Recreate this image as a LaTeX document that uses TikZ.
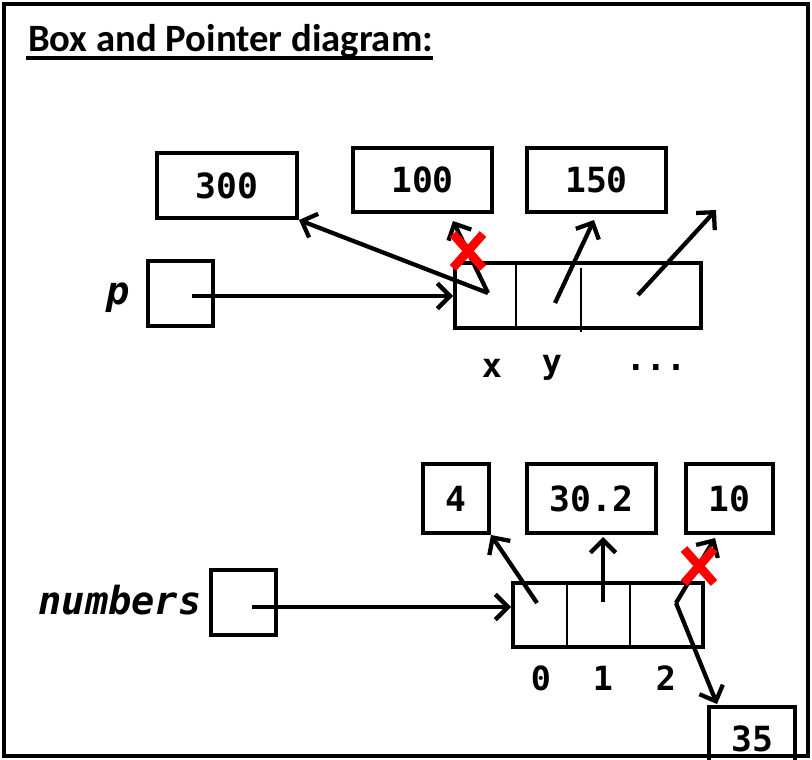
\documentclass[tikz,border=0pt]{standalone}
\usepackage{fontspec}
\setmainfont{Carlito}
\newfontfamily\monof{DejaVu Sans Mono}
\usetikzlibrary{arrows.meta,calc}
\begin{document}
\begin{tikzpicture}[x=0.75pt,y=-0.75pt,
  box/.style={draw,line width=3pt,inner sep=0pt,font=\monof\bfseries\fontsize{26}{30}\selectfont},
  cellline/.style={line width=1.6pt},
  arr/.style={line width=3.2pt,-{Straight Barb[length=9.5pt,width=19pt]}},
  cross/.style={red,line width=6.5pt},
  lab/.style={font=\monof\bfseries\fontsize{25}{29}\selectfont,inner sep=0pt},
  varlab/.style={font=\monof\bfseries\itshape\fontsize{29}{33}\selectfont,inner sep=0pt}]
\useasboundingbox (0,0) rectangle (812,759);
\clip (0,0) rectangle (812,759);
% frame
\draw[line width=3.5pt] (4,4) rectangle (808,756);
% title
\node[anchor=base west,inner sep=0pt,font=\bfseries\fontsize{29}{33}\selectfont] (title) at (28,52) {Box and Pointer diagram:};
\draw[line width=2.4pt] ($(title.base west)+(-2,6)$) -- ($(title.base east)+(0,6)$);

% ---- top section ----
\node[box,minimum width=105pt,minimum height=48.75pt] (b300) at (227,185.5) {300};
\node[box,minimum width=104.25pt,minimum height=48pt] (b100) at (422.5,180) {100};
\node[box,minimum width=104.25pt,minimum height=48pt] (b150) at (596.5,180) {150};
\node[box,minimum width=48.75pt,minimum height=48.75pt] (pbox) at (180.5,293.5) {};
\node[box,minimum width=184.5pt,minimum height=48.75pt] (parr) at (578,295.5) {};
\draw[cellline] (516,263) -- (516,328);
\draw[cellline] (581,268) -- (581,332);
\node[varlab] (plab) at (118,298) {p};
\node[lab] (lx) at (492,368) {x};
\node[lab] (ly) at (552,368) {y};
\node[lab] (ldots) at (656,368) {...};

\coordinate (pstart) at (192,296);
\coordinate (xpt) at (488,293);
\coordinate (xto100) at (453,221);
\coordinate (ypt) at (555,303);
\coordinate (yto150) at (594,220);
\coordinate (dpt) at (638,295);
\coordinate (dend) at (716,210);
\draw[arr] (pstart) -- (parr.west |- pstart);
\draw[arr] (xpt) -- (b300.south east);
\draw[arr] (xpt) -- (xto100);
\draw[arr] (ypt) -- (yto150);
\draw[arr] (dpt) -- (dend);
\coordinate (x1) at (468,251);
\draw[cross] ($(x1)+(-15,-17)$) -- ($(x1)+(15,17)$);
\draw[cross] ($(x1)+(15,-17)$) -- ($(x1)+(-15,17)$);

% ---- bottom section ----
\node[box,minimum width=49.5pt,minimum height=51.75pt] (b4) at (456,498.5) {4};
\node[box,minimum width=96.75pt,minimum height=51.75pt] (b302) at (591.5,498.5) {30.2};
\node[box,minimum width=65.25pt,minimum height=51.75pt] (b10) at (729.5,498.5) {10};
\node[box,minimum width=64.5pt,minimum height=48pt] (b35) at (752,739) {35};
\node[box,minimum width=48.75pt,minimum height=48.75pt] (nbox) at (243.5,602.5) {};
\node[box,minimum width=142.5pt,minimum height=48pt] (narr) at (608,615) {};
\draw[cellline] (567,583) -- (567,647);
\draw[cellline] (630,583) -- (630,647);
\node[varlab] (nlab) at (120,600) {numbers};
\node[lab] (l0) at (541,678) {0};
\node[lab] (l1) at (603,678) {1};
\node[lab] (l2) at (666,678) {2};

\coordinate (nstart) at (252,607);
\coordinate (c0) at (537,603);
\coordinate (c1) at (603,602);
\coordinate (c1end) at (603,537);
\coordinate (c2) at (676,603);
\coordinate (c2up) at (715,538);
\coordinate (c2down) at (717,704);
\draw[arr] (nstart) -- (narr.west |- nstart);
\draw[arr] (c0) -- (b4.south east);
\draw[arr] (c1) -- (c1end);
\draw[arr] (c2) -- (c2up);
\draw[arr] (c2) -- (c2down);
\coordinate (x2) at (699,566);
\draw[cross] ($(x2)+(-15,-17)$) -- ($(x2)+(15,17)$);
\draw[cross] ($(x2)+(15,-17)$) -- ($(x2)+(-15,17)$);
\end{tikzpicture}
\end{document}
